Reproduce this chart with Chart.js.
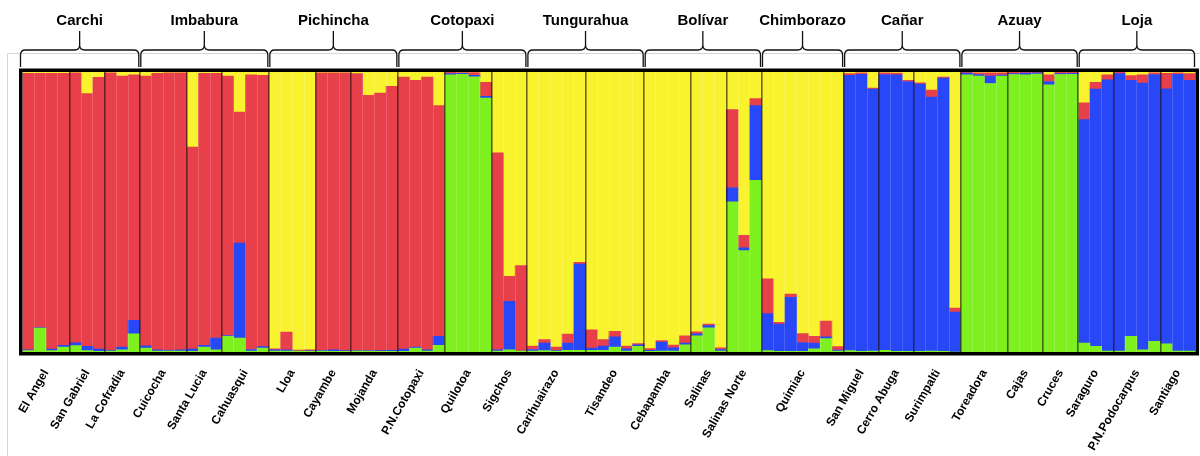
<!DOCTYPE html>
<html><head><meta charset="utf-8">
<script src="https://cdn.jsdelivr.net/npm/chart.js@4/dist/chart.umd.min.js"></script>
<style>html,body{margin:0;padding:0;background:#fff;}#c{display:block;}</style>
</head><body>
<canvas id="c" width="1200" height="456"></canvas>
<script>
const populations = ['El Angel','San Gabriel','La Cofradia','Cuicocha','Santa Lucia','Cahuasqui','Lloa','Cayambe','Mojanda','P.N.Cotopaxi','Quilotoa','Sigchos','Carihuairazo','Tisandeo','Cebapamba','Salinas','Salinas Norte','Quimiac','San Miguel','Cerro Abuga','Surimpalti','Toreadora','Cajas','Cruces','Saraguro','P.N.Podocarpus','Santiago'];
const popSizes = [4,3,3,4,3,4,4,3,4,4,4,3,5,5,4,3,3,7,3,3,4,4,3,3,3,4,3];
const provinces = ['Carchi','Imbabura','Pichincha','Cotopaxi','Tungurahua','Bolívar','Chimborazo','Cañar','Azuay','Loja'];
const provincePopCounts = [3,3,3,3,2,3,1,3,3,3];

// membership proportions (%) per individual, stacked bottom -> top: green, blue, red, yellow
const green = [0.5,8.5,0.5,1.8, 2.3,0.5,0.2, 0.3,0.8,6.5, 1.4,0.3,0.3,0.3, 0.2,1.8,0.8, 5.6,5.0,0.3,1.4,
 0.3,0.3,0.3,0.2, 0.3,0.2,0.2, 0.3,0.3,0.2,0.2, 0.2,1.4,0.3,2.4, 99.0,99.2,98.3,90.7, 0.3,0.8,0.3,
 0.3,0.5,0.3,0.6,0.6, 0.6,0.6,1.8,0.3,2.0, 0.2,0.3,0.3,2.6, 5.8,8.6,0.3, 53.6,36.2,61.3,
 0.5,0.2,0.2,0.2,1.1,4.8,0.3, 0.5,0.2,0.3, 0.6,0.2,0.2, 0.2,0.3,0.2,0,
 99.0,98.5,95.9,98.5, 99.1,99.0,99.3, 95.4,99.1,99.2, 3.2,2.0,0.3, 0.3,5.6,0.8,3.8, 2.9,0.3,0.3];
const blue = [0.3,0.2,0.5,0.6, 1.0,1.5,0.8, 0.3,1.0,4.8, 0.8,0.5,0.3,0.5, 0.8,0.6,4.2, 0.3,33.9,0.6,0.5,
 0.5,0.5,0,0.2, 0.3,0.6,0.3, 0.2,0.2,0.3,0.4, 0.8,0.4,0.5,3.2, 0.4,0.3,0.5,0.6, 0.5,17.3,0,
 0.6,2.7,0.3,2.6,30.8, 0.8,1.5,3.6,0.8,0.6, 0.4,3.2,1.2,0.6, 0.7,0.8,0.6, 5.0,1.0,26.7,
 13.2,9.8,19.3,3.2,2.1,0.6,0.4, 98.3,99.0,93.6, 98.5,98.8,96.4, 95.5,90.7,97.6,14.3,
 0.6,0.6,2.6,0.4, 0.3,0.6,0.4, 1.2,0.3,0.3, 79.8,91.9,96.9, 99.1,91.4,95.2,95.3, 91.1,98.9,96.7];
const red = [98.7,90.8,98.5,97.1, 96.4,90.3,97.1, 99.1,96.7,87.7, 96.3,98.7,99.1,98.9, 72.2,97.1,94.5, 92.6,46.8,98.1,96.9,
 0.3,6.3,0.4,0.4, 99.1,98.9,99.2, 98.9,91.2,92.0,94.3, 97.2,95.2,97.4,82.4, 0.6,0.3,1.0,5.0, 70.3,8.9,30.6,
 1.2,1.2,1.2,3.2,0.6, 6.5,2.3,2.0,1.0,0.4, 0.6,0.6,1.0,2.6, 0.7,0.6,0.6, 28.0,4.5,2.5,
 12.4,0.6,1.2,3.2,2.4,5.6,1.2, 0.6,0.5,0.4, 0.6,0.6,0.4, 0.4,2.5,0.4,1.4,
 0.4,0.6,1.2,0.8, 0.6,0.4,0.3, 2.4,0.6,0.5, 6.0,2.4,1.8, 0.6,1.7,3.0,0.6, 5.5,0.5,2.4];
const yellow = [0.5,0.5,0.5,0.5, 0.3,7.7,1.9, 0.3,1.5,1.0, 1.5,0.5,0.3,0.3, 26.8,0.5,0.5, 1.5,14.3,1.0,1.2,
 98.9,92.9,99.3,99.2, 0.3,0.3,0.3, 0.6,8.3,7.5,5.1, 1.8,3.0,1.8,12.0, 0,0.2,0.2,3.7, 28.9,73.0,69.1,
 97.9,95.6,98.2,93.6,68.0, 92.1,95.6,92.6,97.9,97.0, 98.8,95.9,97.5,94.2, 92.8,90.0,98.5, 13.4,58.3,9.5,
 73.9,89.4,79.3,93.4,94.4,89.0,98.1, 0.6,0.3,5.7, 0.3,0.4,3.0, 3.9,6.5,1.8,84.3,
 0,0.3,0.3,0.3, 0,0,0, 1.0,0,0, 11.0,3.7,1.0, 0,1.3,1.0,0.3, 0.5,0.3,0.6];

// derived layout helpers (indices along the individual axis)
const individuals = [];
const popStart = [];
let acc = 0;
populations.forEach((p, i) => { popStart.push(acc); for (let k = 0; k < popSizes[i]; k++) individuals.push(p + ' ' + (k + 1)); acc += popSizes[i]; });
const total = acc;
const popCenters = popStart.map((s, i) => s + popSizes[i] / 2);
const popBounds = new Set(popStart.slice(1));
const innerTicks = []; for (let v = 1; v < total; v++) innerTicks.push(v);
const provStart = []; { let p = 0; provincePopCounts.forEach(c => { provStart.push(popStart[p]); p += c; }); }
const provEnd = provStart.map((s, i) => i + 1 < provStart.length ? provStart[i + 1] : total);

const COLORS = { green: '#7FF01F', blue: '#2847F7', red: '#E8404A', yellow: '#F9F32F' };
const FONT = "'Liberation Sans', Arial, Helvetica, sans-serif";

const decor = {
  id: 'decor',
  beforeDraw(chart) {
    const ctx = chart.ctx;
    ctx.save();
    ctx.strokeStyle = '#d6d6d6'; ctx.lineWidth = 1;
    ctx.beginPath(); ctx.moveTo(7.5, 456); ctx.lineTo(7.5, 53.5); ctx.lineTo(1200, 53.5); ctx.stroke();
    ctx.restore();
  },
  afterDraw(chart) {
    const ctx = chart.ctx, a = chart.chartArea, sx = chart.scales.xl;
    ctx.save();
    ctx.strokeStyle = '#000'; ctx.lineWidth = 3.5;
    ctx.strokeRect(a.left - 1.75, a.top - 1.75, a.right - a.left + 3.5, a.bottom - a.top + 3.5);
    ctx.strokeStyle = '#111'; ctx.lineWidth = 1.3; ctx.lineJoin = 'round';
    const yb = 67, yh = 50, yt = 31, r = 5;
    provinces.forEach((name, i) => {
      const x0 = sx.getPixelForValue(provStart[i]) - (i === 0 ? 2 : -1);
      const x1 = sx.getPixelForValue(provEnd[i]) - 1;
      const xc = (x0 + x1) / 2;
      ctx.beginPath();
      ctx.moveTo(x0, yb); ctx.lineTo(x0, yh + r);
      ctx.quadraticCurveTo(x0, yh, x0 + r, yh);
      ctx.lineTo(xc - r, yh);
      ctx.quadraticCurveTo(xc, yh, xc, yh - r);
      ctx.lineTo(xc, yt);
      ctx.moveTo(xc, yh - r);
      ctx.quadraticCurveTo(xc, yh, xc + r, yh);
      ctx.lineTo(x1 - r, yh);
      ctx.quadraticCurveTo(x1, yh, x1, yh + r);
      ctx.lineTo(x1, yb);
      ctx.stroke();
      ctx.fillStyle = '#000'; ctx.font = 'bold 15px ' + FONT;
      ctx.textAlign = 'center'; ctx.textBaseline = 'middle';
      ctx.fillText(name, xc, 21);
    });
    ctx.restore();
  }
};

const mk = (label, data, color) => ({ label, data, backgroundColor: color, borderWidth: 0, barPercentage: 1, categoryPercentage: 1, stack: 's' });

new Chart(document.getElementById('c'), {
  type: 'bar',
  data: {
    labels: individuals,
    datasets: [mk('K1', green, COLORS.green), mk('K2', blue, COLORS.blue), mk('K3', red, COLORS.red), mk('K4', yellow, COLORS.yellow)]
  },
  options: {
    responsive: false, animation: false,
    layout: { padding: { left: 22.5, right: 4.5, top: 72, bottom: 0 } },
    plugins: { legend: { display: false }, tooltip: { enabled: false } },
    scales: {
      x: { stacked: true, display: false },
      y: { stacked: true, display: false, min: 0, max: 100 },
      xg: {
        type: 'linear', position: 'top', min: 0, max: total, offset: false, z: 1,
        afterBuildTicks: s => { s.ticks = innerTicks.map(v => ({ value: v })); },
        afterFit: s => { s.height = 0; s.paddingLeft = 0; s.paddingRight = 0; },
        ticks: { display: false },
        border: { display: false },
        grid: {
          offset: false, drawTicks: false, z: 1,
          color: c => popBounds.has(c.tick && c.tick.value) ? 'rgba(30,15,15,0.62)' : 'rgba(255,255,255,0.16)',
          lineWidth: c => popBounds.has(c.tick && c.tick.value) ? 1.6 : 1
        }
      },
      xl: {
        type: 'linear', position: 'bottom', min: 0, max: total, offset: false,
        afterBuildTicks: s => { s.ticks = popCenters.map(v => ({ value: v })); },
        afterFit: s => { s.height = 456 - 352; s.paddingLeft = 0; s.paddingRight = 0; },
        border: { display: false },
        grid: { display: false, drawTicks: false, offset: false },
        ticks: {
          autoSkip: false, minRotation: 60, maxRotation: 60, padding: 15,
          color: '#000', font: { family: FONT, size: 12, weight: 'bold' },
          callback: (v, i) => populations[i]
        }
      }
    }
  },
  plugins: [decor]
});
</script>
</body></html>
